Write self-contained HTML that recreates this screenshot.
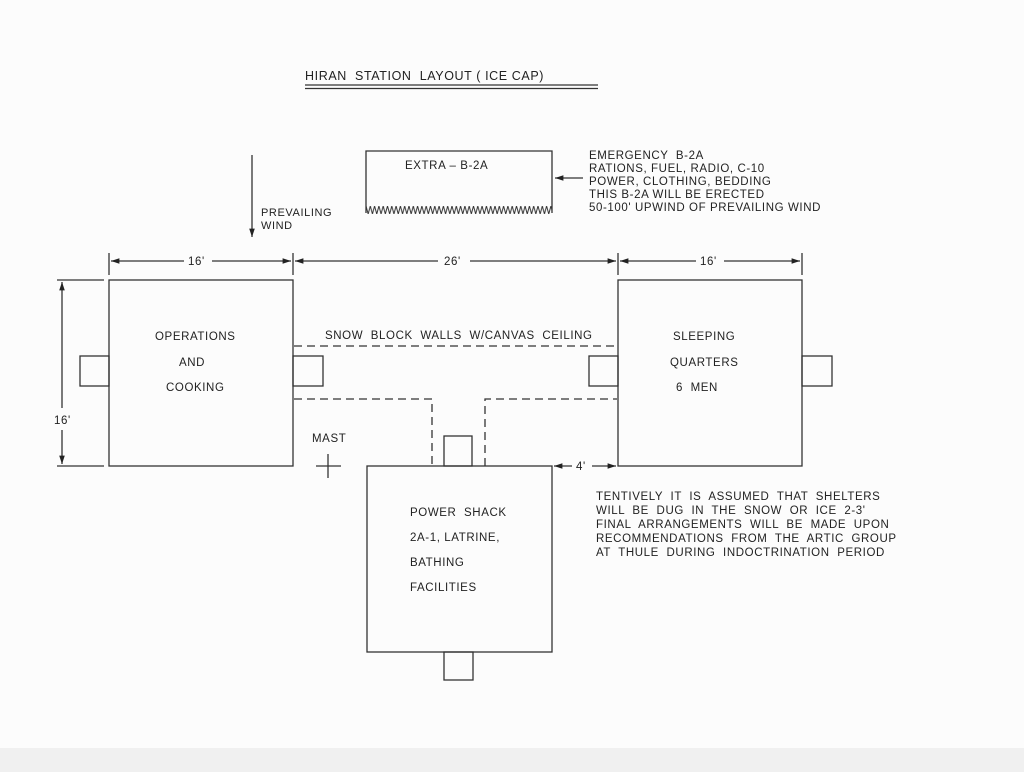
<!DOCTYPE html>
<html><head><meta charset="utf-8"><style>
html,body{margin:0;padding:0;background:#fcfcfc;}
svg{display:block}
text{font-family:"Liberation Sans",sans-serif;font-size:11.5px;fill:#222;letter-spacing:0.6px;white-space:pre}
</style></head><body>
<svg width="1024" height="772" viewBox="0 0 1024 772" xmlns="http://www.w3.org/2000/svg" xml:space="preserve">
<defs>
<marker id="ah" viewBox="0 0 12 10" refX="12" refY="5" markerWidth="12" markerHeight="7" orient="auto-start-reverse" markerUnits="userSpaceOnUse"><path d="M0,1 L12,5 L0,9 Z" fill="#222"/></marker>
<pattern id="zz" x="366" y="206" width="4.3" height="8" patternUnits="userSpaceOnUse"><polyline points="0,0 2.15,8 4.3,0" fill="none" stroke="#333" stroke-width="1"/></pattern>
</defs>
<rect x="0" y="0" width="1024" height="772" fill="#fcfcfc"/>
<rect x="0" y="748" width="1024" height="24" fill="#f0f0f0"/>
<g stroke="#333" stroke-width="1.3" fill="none">
<line x1="305" y1="85" x2="598" y2="85"/><line x1="305" y1="88.5" x2="598" y2="88.5"/>
<polyline points="366,213 366,151 552,151 552,213"/>
<rect x="366" y="206" width="186" height="8" fill="url(#zz)" stroke="none"/>
<line x1="583" y1="178" x2="555" y2="178" marker-end="url(#ah)"/>
<line x1="252" y1="155" x2="252" y2="237" marker-end="url(#ah)"/>
<line x1="109" y1="253" x2="109" y2="275"/><line x1="293" y1="253" x2="293" y2="275"/>
<line x1="618" y1="253" x2="618" y2="275"/><line x1="802" y1="253" x2="802" y2="275"/>
<line x1="111" y1="261" x2="184" y2="261" marker-start="url(#ah)"/><line x1="212" y1="261" x2="291" y2="261" marker-end="url(#ah)"/>
<line x1="295" y1="261" x2="438" y2="261" marker-start="url(#ah)"/><line x1="470" y1="261" x2="616" y2="261" marker-end="url(#ah)"/>
<line x1="620" y1="261" x2="696" y2="261" marker-start="url(#ah)"/><line x1="724" y1="261" x2="800" y2="261" marker-end="url(#ah)"/>
<line x1="57" y1="280" x2="104" y2="280"/><line x1="57" y1="466" x2="104" y2="466"/>
<line x1="62" y1="282" x2="62" y2="408" marker-start="url(#ah)"/><line x1="62" y1="430" x2="62" y2="464" marker-end="url(#ah)"/>
<rect x="109" y="280" width="184" height="186"/>
<rect x="80" y="356" width="29" height="30"/><rect x="293" y="356" width="30" height="30"/>
<rect x="618" y="280" width="184" height="186"/>
<rect x="589" y="356" width="29" height="30"/><rect x="802" y="356" width="30" height="30"/>
<rect x="367" y="466" width="185" height="186"/>
<rect x="444" y="436" width="28" height="30"/><rect x="444" y="652" width="29" height="28"/>
<g stroke-dasharray="8,5">
<line x1="294" y1="346" x2="617" y2="346"/>
<polyline points="294,399 432,399 432,466"/>
<polyline points="485,466 485,399 617,399"/>
</g>
<line x1="316" y1="466" x2="341" y2="466"/><line x1="328" y1="454" x2="328" y2="478"/>
<line x1="554" y1="466" x2="572" y2="466" marker-start="url(#ah)"/><line x1="592" y1="466" x2="616" y2="466" marker-end="url(#ah)"/>
</g>
<text x="305" y="80" style="font-size:12.5px">HIRAN  STATION  LAYOUT ( ICE CAP)</text>
<text x="405" y="169">EXTRA – B-2A</text>
<text x="589" y="159">EMERGENCY  B-2A</text>
<text x="589" y="172">RATIONS, FUEL, RADIO, C-10</text>
<text x="589" y="185">POWER, CLOTHING, BEDDING</text>
<text x="589" y="198">THIS B-2A WILL BE ERECTED</text>
<text x="589" y="211">50-100' UPWIND OF PREVAILING WIND</text>
<text x="261" y="216" style="font-size:11px">PREVAILING</text>
<text x="261" y="229" style="font-size:11px">WIND</text>
<text x="188" y="265">16'</text>
<text x="444" y="265">26'</text>
<text x="700" y="265">16'</text>
<text x="54" y="424">16'</text>
<text x="155" y="340">OPERATIONS</text>
<text x="179" y="366">AND</text>
<text x="166" y="391">COOKING</text>
<text x="325" y="339">SNOW  BLOCK  WALLS  W/CANVAS  CEILING</text>
<text x="673" y="340">SLEEPING</text>
<text x="670" y="366">QUARTERS</text>
<text x="676" y="391">6  MEN</text>
<text x="312" y="442">MAST</text>
<text x="576" y="470">4'</text>
<text x="410" y="516">POWER  SHACK</text>
<text x="410" y="541">2A-1, LATRINE,</text>
<text x="410" y="566">BATHING</text>
<text x="410" y="591">FACILITIES</text>
<text x="596" y="500">TENTIVELY  IT  IS  ASSUMED  THAT  SHELTERS</text>
<text x="596" y="514">WILL  BE  DUG  IN  THE  SNOW  OR  ICE  2-3'</text>
<text x="596" y="528">FINAL  ARRANGEMENTS  WILL  BE  MADE  UPON</text>
<text x="596" y="542">RECOMMENDATIONS  FROM  THE  ARTIC  GROUP</text>
<text x="596" y="556">AT  THULE  DURING  INDOCTRINATION  PERIOD</text>
</svg>
</body></html>
